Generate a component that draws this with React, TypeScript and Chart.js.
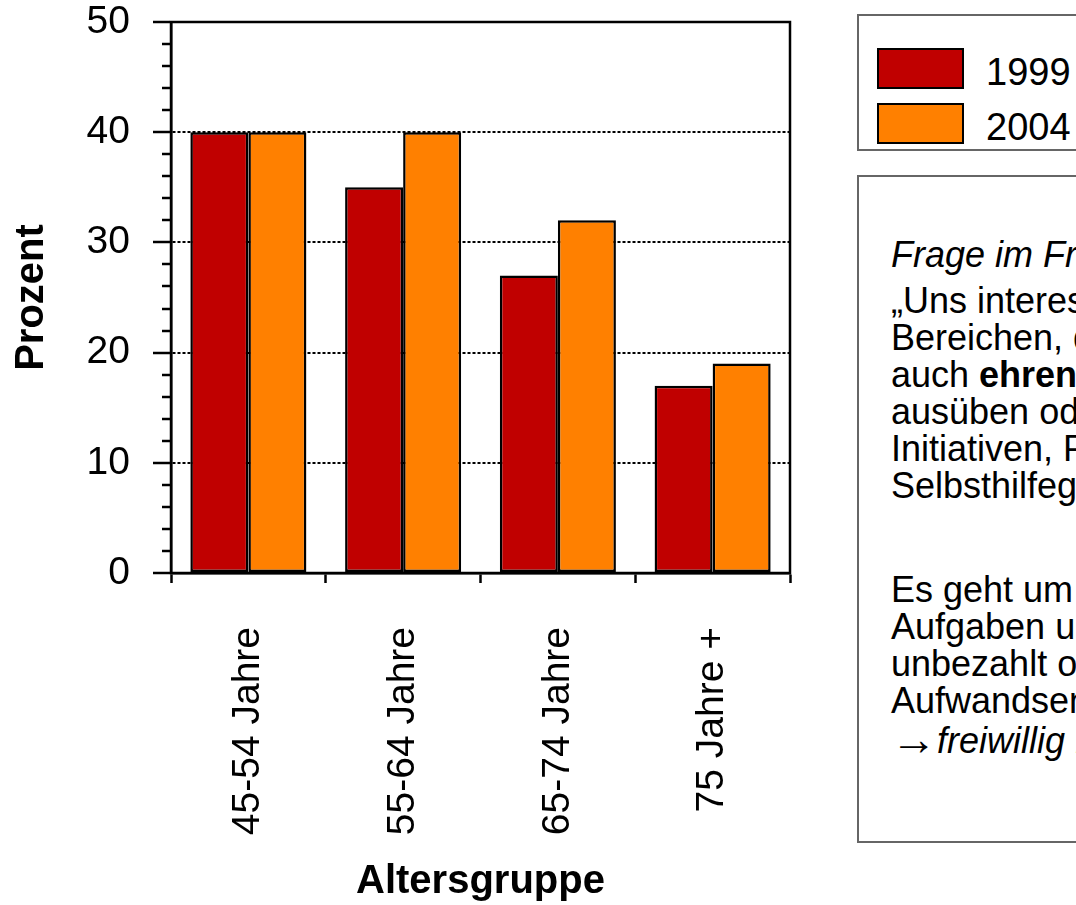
import React, { useEffect, useRef } from "react";
import { Chart, registerables } from "chart.js";

Chart.register(...registerables);

const categories = ["45-54 Jahre", "55-64 Jahre", "65-74 Jahre", "75 Jahre +"];
const seriesLabels = ["1999", "2004"];
const values1999 = [40, 35, 27, 17];
const values2004 = [40, 40, 32, 19];
const seriesColors = ["#C00000", "#FF8000"];
const yMajorTicks = [0, 10, 20, 30, 40, 50];
const yMinorStep = 2;

const FONT = "'Liberation Sans', Arial, Helvetica, sans-serif";

const textLines1 = ["Frage im Fragebogen:"];
const textLines2: Array<Array<[string, boolean]>> = [
  [["„Uns interessiert, ob Sie in diesen", false]],
  [["Bereichen, die wir genannt haben,", false]],
  [["auch ", false], ["ehrenamtlich", true], [" tätig sind, Ämter", false]],
  [["ausüben oder in Vereinen,", false]],
  [["Initiativen, Projekten oder", false]],
  [["Selbsthilfegruppen mitarbeiten.", false]],
];
const textLines3 = [
  "Es geht um freiwillig übernommene",
  "Aufgaben und Arbeiten, die man",
  "unbezahlt oder gegen geringe",
  "Aufwandsentschädigung ausübt.“",
];
const textLine4 = "freiwillig Engagierte";

const CANVAS_W = 850;
const CANVAS_H = 905;

const framePlugin = {
  id: "frameAndMinor",
  afterDraw(chart: any) {
    const { ctx, chartArea } = chart;
    const y = chart.scales.y;
    ctx.save();
    ctx.strokeStyle = "#000";
    ctx.lineWidth = 2.5;
    ctx.strokeRect(chartArea.left, chartArea.top, chartArea.right - chartArea.left, chartArea.bottom - chartArea.top);
    for (let v = y.min; v <= y.max; v += yMinorStep) {
      if (yMajorTicks.includes(v)) continue;
      const py = Math.round(y.getPixelForValue(v));
      ctx.beginPath();
      ctx.moveTo(chartArea.left - 9, py);
      ctx.lineTo(chartArea.left, py);
      ctx.stroke();
    }
    ctx.restore();
  },
};

export default function App() {
  const ref = useRef<HTMLCanvasElement | null>(null);

  useEffect(() => {
    if (!ref.current) return;
    const chart = new Chart(ref.current, {
      type: "bar",
      data: {
        labels: categories,
        datasets: [
          {
            label: seriesLabels[0],
            data: values1999,
            backgroundColor: seriesColors[0],
            borderColor: "#000",
            borderWidth: 2.5,
            borderSkipped: false,
          },
          {
            label: seriesLabels[1],
            data: values2004,
            backgroundColor: seriesColors[1],
            borderColor: "#000",
            borderWidth: 2.5,
            borderSkipped: false,
          },
        ],
      },
      options: {
        responsive: false,
        animation: false,
        devicePixelRatio: 1,
        layout: { autoPadding: false, padding: { top: 22, right: CANVAS_W - 790, bottom: 0, left: 0 } },
        datasets: { bar: { categoryPercentage: 0.75, barPercentage: 1 } },
        plugins: { legend: { display: false }, tooltip: { enabled: false } },
        scales: {
          x: {
            type: "category",
            offset: true,
            grid: {
              display: true,
              offset: true,
              drawOnChartArea: false,
              drawTicks: true,
              tickLength: 10,
              tickColor: "#000",
              tickWidth: 2.5,
            },
            border: { display: true, color: "#000", width: 2.5 },
            ticks: {
              autoSkip: false,
              maxRotation: 90,
              minRotation: 90,
              padding: 44,
              color: "#000",
              font: { family: FONT, size: 39, lineHeight: 1 },
            },
            title: {
              display: true,
              text: "Altersgruppe",
              color: "#000",
              font: { family: FONT, size: 40, weight: "bold", lineHeight: 1 },
              padding: { top: 0, bottom: 3 },
            },
            afterFit(scale: any) {
              scale.height = CANVAS_H - 573;
              scale.paddingLeft = 0;
              scale.paddingRight = 0;
            },
          },
          y: {
            min: 0,
            max: 50,
            ticks: {
              stepSize: 10,
              padding: 23,
              color: "#000",
              font: { family: FONT, size: 39, lineHeight: 1 },
            },
            grid: {
              display: true,
              color: (c: any) =>
                c.tick && (c.tick.value === 0 || c.tick.value === 50) ? "rgba(0,0,0,0)" : "#000",
              lineWidth: 2,
              tickLength: 18,
              tickColor: "#000",
              tickWidth: 2.5,
            },
            border: { display: true, color: "#000", width: 2.5, dash: [3, 2] },
            title: {
              display: true,
              text: "Prozent",
              color: "#000",
              font: { family: FONT, size: 40, weight: "bold", lineHeight: 1 },
              padding: { top: 12, bottom: 0 },
            },
            afterFit(scale: any) {
              scale.width = 171;
              scale.paddingTop = 0;
              scale.paddingBottom = 0;
            },
          },
        },
      },
      plugins: [framePlugin],
    });
    return () => chart.destroy();
  }, []);

  const txt: React.CSSProperties = {
    position: "absolute",
    left: 891,
    fontFamily: FONT,
    fontSize: 36,
    lineHeight: "37px",
    whiteSpace: "pre",
    color: "#000",
  };

  return (
    <div
      style={{
        position: "absolute",
        left: 0,
        top: 0,
        width: 1076,
        height: 905,
        overflow: "hidden",
        background: "#fff",
      }}
    >
      <canvas
        ref={ref}
        width={CANVAS_W}
        height={CANVAS_H}
        style={{ position: "absolute", left: 0, top: 0, width: CANVAS_W, height: CANVAS_H }}
      />
      <div
        style={{
          position: "absolute",
          left: 857,
          top: 14,
          width: 300,
          height: 137,
          border: "2px solid #666",
          boxSizing: "border-box",
        }}
      />
      {seriesLabels.map((lab, i) => (
        <React.Fragment key={lab}>
          <div
            style={{
              position: "absolute",
              left: 877,
              top: 48 + i * 55,
              width: 87,
              height: 41,
              background: seriesColors[i],
              border: "2.5px solid #000",
              boxSizing: "border-box",
            }}
          />
          <div
            style={{
              position: "absolute",
              left: 986,
              top: 52 + i * 55,
              fontFamily: FONT,
              fontSize: 38,
              lineHeight: "40px",
              whiteSpace: "pre",
            }}
          >
            {lab}
          </div>
        </React.Fragment>
      ))}
      <div
        style={{
          position: "absolute",
          left: 857,
          top: 175,
          width: 300,
          height: 668,
          border: "2px solid #666",
          boxSizing: "border-box",
        }}
      />
      <div style={{ ...txt, top: 236, fontStyle: "italic" }}>{textLines1.join("\n")}</div>
      <div style={{ ...txt, top: 282 }}>
        {textLines2.map((line, i) => (
          <div key={i}>
            {line.map(([s, b], j) => (
              <span key={j} style={{ fontWeight: b ? "bold" : "normal" }}>
                {s}
              </span>
            ))}
          </div>
        ))}
      </div>
      <div style={{ ...txt, top: 571 }}>{textLines3.join("\n")}</div>
      <div style={{ ...txt, top: 721 }}>
        <span
          style={{
            display: "inline-block",
            width: 46,
            fontFamily: FONT,
            fontSize: 46,
            lineHeight: "37px",
            verticalAlign: "-2px",
          }}
        >
          →
        </span>
        <span style={{ fontStyle: "italic" }}>{textLine4}</span>
      </div>
    </div>
  );
}
